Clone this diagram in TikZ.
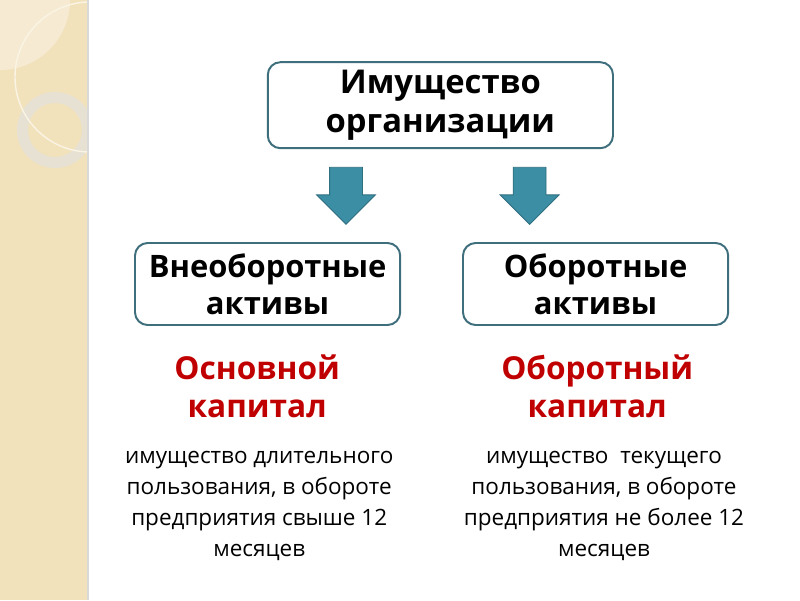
\documentclass[tikz,border=0pt]{standalone}
\usepackage{fontspec}
\setmainfont{Open Sans}
\usetikzlibrary{shapes.arrows, positioning}

\definecolor{stripbeige}{HTML}{F2E2BC}
\definecolor{leafbeige}{HTML}{F6EBD2}
\definecolor{ringgray}{HTML}{E7E1D3}
\definecolor{boxline}{HTML}{3F6F7C}
\definecolor{arrowfill}{HTML}{3B8EA3}
\definecolor{arrowline}{HTML}{2F6F80}
\definecolor{capred}{HTML}{C00000}

\begin{document}
\begin{tikzpicture}[
    box/.style={rectangle, draw=boxline, line width=1.4pt, rounded corners=9pt, fill=white, align=center, inner sep=0pt},
    downarrow/.style={single arrow, draw=arrowline, fill=arrowfill, line width=0.6pt, shape border rotate=270, inner sep=0.4cm, minimum width=1.45cm, minimum height=1.425cm, single arrow head extend=0.325cm},
    caption/.style={align=center, text=capred, font=\bfseries\fontsize{22.5}{27}\selectfont},
    note/.style={align=center, font=\fontsize{16}{22}\selectfont}
]
\useasboundingbox (0,0) rectangle (20,15);

% Left strip
\fill[stripbeige] (0,0) rectangle (2.2,15);
\begin{scope}
  \clip (0,0) rectangle (2.2,15);
  \fill[leafbeige] (0,15) -- (1.75,15) arc (0:-90:1.75) -- cycle;
  \draw[ringgray, line width=0.275cm] (1.375,11.75) circle (0.8125);
  \draw[white!60!stripbeige, line width=1pt] (2.25,13.075) circle (1.875);
\end{scope}
\draw[black!15, line width=1pt] (2.2,0) -- (2.2,15);

% Boxes
\node[box, minimum width=8.63cm, minimum height=2.15cm, font=\bfseries\fontsize{23.3}{28}\selectfont] (property) at (11.01,12.37) {Имущество\\организации};
\node[box, minimum width=6.63cm, minimum height=2.05cm, font=\bfseries\fontsize{22}{26}\selectfont] (noncurrent) at (6.69,7.9) {Внеоборотные\\активы};
\node[box, minimum width=6.63cm, minimum height=2.05cm, font=\bfseries\fontsize{22}{26}\selectfont] (current) at (14.89,7.9) {Оборотные\\активы};

% Arrows
\node[downarrow] (arrow_left) at (8.65,10.31) {};
\node[downarrow] (arrow_right) at (13.24,10.31) {};

% Captions
\node[caption] (fixed_cap) at (6.43,5.35) {Основной\\капитал};
\node[caption] (working_cap) at (14.93,5.35) {Оборотный\\капитал};

% Notes
\node[note] (fixed_note) at (6.48,2.35) {имущество длительного\\пользования, в обороте\\предприятия свыше 12\\месяцев};
\node[note] (working_note) at (15.1,2.35) {имущество\ \ текущего\\пользования, в обороте\\предприятия не более 12\\месяцев};

\end{tikzpicture}
\end{document}
